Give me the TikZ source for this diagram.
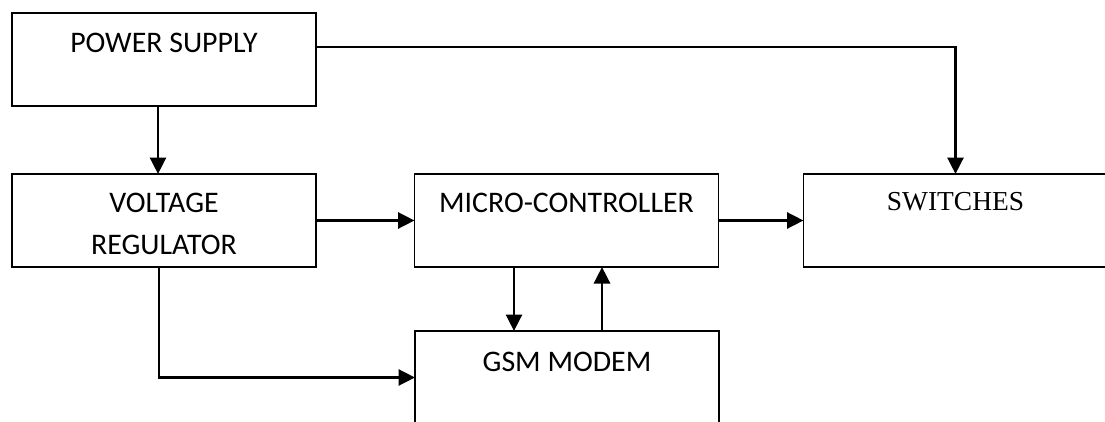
\documentclass[tikz,border=0pt]{standalone}
\usepackage{fontspec}
\setmainfont{Carlito}
\newfontfamily\romanfont{Liberation Serif}
\usetikzlibrary{arrows.meta, positioning}

\begin{document}
\begin{tikzpicture}[
  x=1cm, y=1cm,
  blk/.style={
    draw=black, line width=1.1pt, fill=white,
    minimum width=6.08cm, minimum height=1.86cm,
    inner sep=0pt, outer sep=0pt
  },
  lbl/.style={
    font=\fontsize{17}{23.8}\selectfont, inner sep=0pt, align=center
  },
  flow/.style={
    -{Triangle[length=3.3mm, width=3.2mm]},
    draw=black, line width=1.6pt
  }
]
\useasboundingbox (0,0) rectangle (22.1,8.42);

% ----- blocks -----
\node[blk] (ps)  at (3.28, 7.23)  {};
\node[blk] (vr)  at (3.28, 4.01)  {};
\node[blk] (mcu) at (11.33, 4.01) {};
\node[blk] (sw)  at (19.11, 4.01) {};
\node[blk] (gsm) at (11.34, 0.87) {};

% ----- texts -----
\node[lbl] (psT)  at (3.28, 7.56)  {POWER SUPPLY};
\node[lbl] (vrT)  at (3.28, 3.94)  {VOLTAGE\\REGULATOR};
\node[lbl] (mcuT) at (11.33, 4.36) {MICRO-CONTROLLER};
\node[lbl, font=\romanfont\fontsize{15.6}{18}\selectfont] (swT) at (19.11, 4.38) {SWITCHES};
\node[lbl] (gsmT) at (11.34, 1.18) {GSM MODEM};

% ----- connections -----
\draw[flow] ([yshift=2.5mm]ps.east) -| (sw.north);
\draw[flow] ([xshift=-1.2mm]ps.south) -- ([xshift=-1.2mm]vr.north);
\draw[flow] (vr.east) -- (mcu.west);
\draw[flow] (mcu.east) -- (sw.west);
\draw[flow] ([xshift=-10.5mm]mcu.south) -- ([xshift=-10.5mm]mcu.south |- gsm.north);
\draw[flow] ([xshift=7.1mm]mcu.south |- gsm.north) -- ([xshift=7.1mm]mcu.south);
\draw[flow] ([xshift=-1mm]vr.south) |- (gsm.west);

\end{tikzpicture}
\end{document}
